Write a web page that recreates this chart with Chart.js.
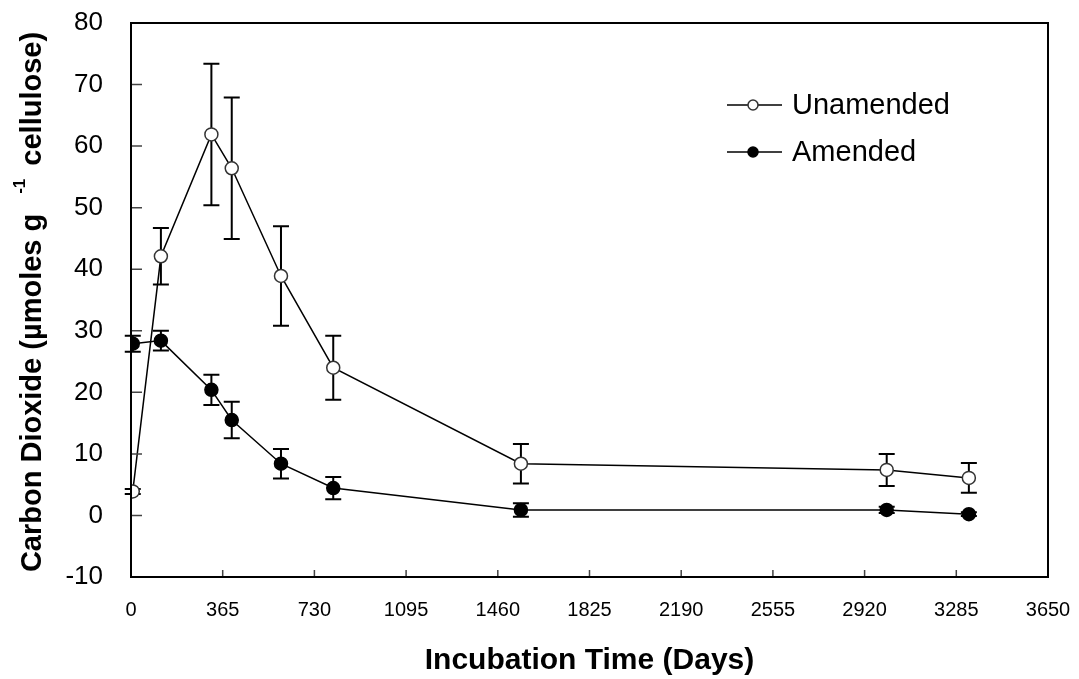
<!DOCTYPE html>
<html>
<head>
<meta charset="utf-8">
<script src="https://cdn.jsdelivr.net/npm/chart.js@4/dist/chart.umd.min.js"></script>
<style>
  body { margin: 0; background: #fff; }
</style>
</head>
<body>
<canvas id="co2Chart" width="1079" height="679"></canvas>
<script>
// data
const days = [7, 119, 320, 401, 597, 805, 1552, 3008, 3335];
const unamended = [3.9, 42.1, 61.9, 56.4, 38.9, 24.0, 8.4, 7.4, 6.1];
const unamendedErr = [0.4, 4.6, 11.5, 11.5, 8.1, 5.2, 3.2, 2.6, 2.4];
const amended = [27.9, 28.4, 20.4, 15.5, 8.4, 4.45, 0.9, 0.9, 0.2];
const amendedErr = [1.3, 1.6, 2.45, 2.95, 2.4, 1.8, 1.1, 0.5, 0.3];
const xTicks = [0, 365, 730, 1095, 1460, 1825, 2190, 2555, 2920, 3285, 3650];
const yTicks = [-10, 0, 10, 20, 30, 40, 50, 60, 70, 80];

const FONT = '"Liberation Sans", Arial, sans-serif';

function toPoints(xs, ys) {
  return xs.map((x, i) => ({ x: x, y: ys[i] }));
}

// error bars, box, inner tick marks, y title and legend
const extras = {
  id: 'extras',
  beforeDatasetsDraw(chart) {
    const ctx = chart.ctx;
    const xs = chart.scales.x, ys = chart.scales.y;
    ctx.save();
    ctx.strokeStyle = '#000';
    ctx.lineWidth = 2;
    chart.data.datasets.forEach(ds => {
      ds.data.forEach((p, i) => {
        const e = ds.errors[i];
        const px = xs.getPixelForValue(p.x);
        const top = ys.getPixelForValue(p.y + e);
        const bot = ys.getPixelForValue(p.y - e);
        ctx.beginPath();
        ctx.moveTo(px, top); ctx.lineTo(px, bot);
        ctx.moveTo(px - 8, top); ctx.lineTo(px + 8, top);
        ctx.moveTo(px - 8, bot); ctx.lineTo(px + 8, bot);
        ctx.stroke();
      });
    });
    ctx.restore();
  },
  afterDraw(chart) {
    const ctx = chart.ctx;
    const a = chart.chartArea;
    const xs = chart.scales.x, ys = chart.scales.y;
    ctx.save();

    // inner ticks
    ctx.strokeStyle = '#444';
    ctx.lineWidth = 1.5;
    ctx.beginPath();
    yTicks.forEach(v => {
      const py = ys.getPixelForValue(v);
      ctx.moveTo(a.left, py); ctx.lineTo(a.left + 11, py);
    });
    xTicks.forEach(v => {
      const px = xs.getPixelForValue(v);
      ctx.moveTo(px, a.bottom); ctx.lineTo(px, a.bottom - 7);
    });
    ctx.stroke();

    // frame
    ctx.strokeStyle = '#000';
    ctx.lineWidth = 2;
    ctx.strokeRect(a.left, a.top, a.right - a.left, a.bottom - a.top);

    // y axis title with superscript
    ctx.fillStyle = '#000';
    const part1 = 'Carbon Dioxide (µmoles g';
    const sup = '-1';
    const part3 = 'cellulose)';
    ctx.font = 'bold 29px ' + FONT;
    const w1 = ctx.measureText(part1).width;
    const w3 = ctx.measureText(part3).width;
    ctx.font = 'bold 17px ' + FONT;
    const w2 = ctx.measureText(sup).width;
    const total = w1 + 20 + w2 + 13 + w3;
    const cy = 302;
    ctx.translate(41, cy + total / 2);
    ctx.rotate(-Math.PI / 2);
    ctx.textBaseline = 'alphabetic';
    ctx.textAlign = 'left';
    ctx.font = 'bold 29px ' + FONT;
    ctx.fillText(part1, 0, 0);
    ctx.font = 'bold 17px ' + FONT;
    ctx.fillText(sup, w1 + 20, -16);
    ctx.font = 'bold 29px ' + FONT;
    ctx.fillText(part3, w1 + 20 + w2 + 13, 0);
    ctx.setTransform(1, 0, 0, 1, 0, 0);

    // legend
    const lx = a.left + 596, ly = [105, 152];
    chart.data.datasets.forEach((ds, i) => {
      const y = ly[i];
      ctx.strokeStyle = '#000';
      ctx.lineWidth = 1.5;
      ctx.beginPath();
      ctx.moveTo(lx, y); ctx.lineTo(lx + 55, y);
      ctx.stroke();
      ctx.beginPath();
      ctx.arc(lx + 26, y, 5, 0, Math.PI * 2);
      ctx.fillStyle = ds.pointBackgroundColor;
      ctx.fill();
      ctx.strokeStyle = ds.pointBorderColor;
      ctx.stroke();
      ctx.fillStyle = '#000';
      ctx.font = '29px ' + FONT;
      ctx.textBaseline = 'middle';
      ctx.fillText(ds.label, lx + 65, y + 1);
    });
    ctx.restore();
  }
};

const ctx = document.getElementById('co2Chart').getContext('2d');
new Chart(ctx, {
  type: 'line',
  data: {
    datasets: [{
      label: 'Unamended',
      data: toPoints(days, unamended),
      errors: unamendedErr,
      borderColor: '#000',
      borderWidth: 1.5,
      pointRadius: 6.5,
      pointBorderWidth: 1.5,
      pointBackgroundColor: '#fff',
      pointBorderColor: '#333',
      tension: 0
    }, {
      label: 'Amended',
      data: toPoints(days, amended),
      errors: amendedErr,
      borderColor: '#000',
      borderWidth: 1.5,
      pointRadius: 6.5,
      pointBorderWidth: 1.5,
      pointBackgroundColor: '#000',
      pointBorderColor: '#000',
      tension: 0
    }]
  },
  options: {
    responsive: false,
    animation: false,
    layout: { padding: { top: 23, right: 31, left: 0, bottom: 0 } },
    plugins: { legend: { display: false }, tooltip: { enabled: false } },
    scales: {
      x: {
        type: 'linear',
        min: 0,
        max: 3650,
        afterBuildTicks: s => { s.ticks = xTicks.map(v => ({ value: v })); },
        afterFit: s => { s.height = 102; s.paddingLeft = 0; s.paddingRight = 0; },
        grid: { display: false },
        border: { display: false },
        ticks: {
          padding: 13,
          color: '#000',
          font: { family: FONT, size: 20 },
          maxRotation: 0,
          autoSkip: false,
          callback: v => String(v)
        },
        title: {
          display: true,
          text: 'Incubation Time (Days)',
          color: '#000',
          font: { family: FONT, size: 30, weight: 'bold' },
          padding: { top: 0, bottom: 0 }
        }
      },
      y: {
        min: -10,
        max: 80,
        afterBuildTicks: s => { s.ticks = yTicks.map(v => ({ value: v })); },
        afterFit: s => { s.width = 131; s.paddingTop = 0; s.paddingBottom = 0; },
        grid: { display: false },
        border: { display: false },
        ticks: {
          padding: 20,
          color: '#000',
          font: { family: FONT, size: 26 },
          callback: v => String(v)
        }
      }
    }
  },
  plugins: [extras]
});
</script>
</body>
</html>
